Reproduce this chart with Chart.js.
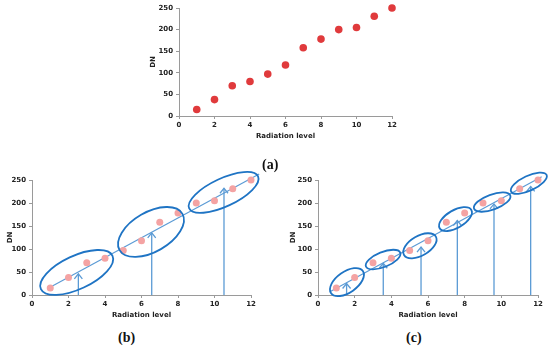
<!DOCTYPE html>
<html lang="en">
<head>
<meta charset="UTF-8">
<title>DN vs radiation level</title>
<script src="https://cdn.jsdelivr.net/npm/chart.js@4.4.0/dist/chart.umd.min.js"></script>
<style>
    body { margin: 0; background: #fff; }
    #wrap { position: relative; width: 550px; height: 350px; overflow: hidden; background: #fff; }
    .box { position: absolute; }
    .cap { position: absolute; font-family: "Liberation Serif", serif; font-weight: bold; font-size: 14px; color: #111; line-height: 14px; }
</style>
</head>
<body>
<div id="wrap">
    <div class="box" style="left:125px;top:0;width:285px;height:148px"><canvas id="chartA" width="285" height="148"></canvas></div>
    <div class="box" style="left:0;top:165px;width:275px;height:160px"><canvas id="chartB" width="275" height="160"></canvas></div>
    <div class="box" style="left:280px;top:165px;width:270px;height:160px"><canvas id="chartC" width="270" height="160"></canvas></div>
    <div class="cap" style="left:262px;top:158px">(a)</div>
    <div class="cap" style="left:118px;top:331px">(b)</div>
    <div class="cap" style="left:406px;top:331px">(c)</div>
</div>

<script>
    // data
    const levels = [1, 2, 3, 4, 5, 6, 7, 8, 9, 10, 11, 12];
    const dn = [15, 38, 70, 80, 97, 118, 158, 178, 200, 205, 231, 250];
    const xTicks = [0, 2, 4, 6, 8, 10, 12];
    const yTicks = [0, 50, 100, 150, 200, 250];

    // fitted line end points in (b) and (c)
    const fitBX = [0.99, 12.45], fitBY = [17, 263];
    const fitCX = [0.65, 12.2], fitCY = [7, 257];

    // arrows: x position and DN where the head stops
    const arrowBX = [2.54, 6.56, 10.52], arrowBTop = [46, 135, 232];
    const arrowCX = [1.56, 3.56, 5.62, 7.6, 9.6, 11.6], arrowCTop = [25, 69, 104, 162, 198, 236];

    // ellipse centres
    const ringBX = [2.45, 6.52, 10.5], ringBY = [49, 137, 223];
    const ringCX = [1.58, 3.55, 5.56, 7.5, 9.5, 11.5], ringCY = [28, 77, 107, 165, 202, 243];

    // ellipse shapes: [semi major px, semi minor px, tilt deg]
    const ringShapeB = [[39.5, 16.6, -25], [36.3, 19.8, -30], [38, 14, -25]];
    const ringShapeC = [[19.4, 10.4, -35], [18.5, 7.5, -22], [18.4, 9.8, -30], [18.3, 8.9, -30], [19.3, 7.5, -20], [19.6, 7.4, -25]];

    const axisGray = '#9a9a9a';
    const lineBlue = '#5b9bd5';
    const ringBlue = '#1f74c4';

    function axes(cfg) {
        const tickFont = { family: 'DejaVu Sans', size: 7, weight: 'bold' };
        return {
            x: {
                type: 'linear', min: 0, max: 12,
                afterBuildTicks: s => { s.ticks = xTicks.map(v => ({ value: v })); },
                afterFit: s => { s.height = cfg.xh; },
                grid: { drawOnChartArea: false, drawTicks: true, tickLength: 3, color: axisGray },
                border: { color: axisGray },
                ticks: { font: tickFont, color: '#222', padding: 2, maxRotation: 0 },
                title: { display: true, text: 'Radiation level', font: tickFont, color: '#222', padding: { top: 0, bottom: cfg.xtp } }
            },
            y: {
                type: 'linear', min: 0, max: 250,
                afterBuildTicks: s => { s.ticks = yTicks.map(v => ({ value: v })); },
                afterFit: s => { s.width = cfg.yw; },
                grid: { drawOnChartArea: false, drawTicks: true, tickLength: 3, color: axisGray },
                border: { color: axisGray },
                ticks: { font: tickFont, color: '#222', padding: 3 },
                title: { display: true, text: 'DN', font: tickFont, color: '#222', padding: { top: cfg.ytp, bottom: 0 } }
            }
        };
    }

    function pts(xs, ys) {
        return xs.map((x, i) => ({ x: x, y: ys[i] }));
    }

    // ellipses and arrow heads drawn on top, positioned with the chart scales
    function marksPlugin(ringX, ringY, shapes, arrowX, arrowTop) {
        return {
            id: 'marks',
            afterDatasetsDraw(chart) {
                const ctx = chart.ctx, sx = chart.scales.x, sy = chart.scales.y;
                ctx.save();
                ctx.strokeStyle = lineBlue;
                ctx.lineWidth = 1.3;
                arrowX.forEach((x, i) => {
                    const px = sx.getPixelForValue(x), py = sy.getPixelForValue(arrowTop[i]);
                    ctx.beginPath();
                    ctx.moveTo(px - 4, py + 5);
                    ctx.lineTo(px, py);
                    ctx.lineTo(px + 4, py + 5);
                    ctx.stroke();
                });
                ctx.strokeStyle = ringBlue;
                ctx.lineWidth = 1.8;
                ringX.forEach((x, i) => {
                    const s = shapes[i];
                    ctx.beginPath();
                    ctx.ellipse(sx.getPixelForValue(x), sy.getPixelForValue(ringY[i]), s[0], s[1], s[2] * Math.PI / 180, 0, Math.PI * 2);
                    ctx.stroke();
                });
                ctx.restore();
            }
        };
    }

    function baseOptions(cfg) {
        return {
            responsive: false,
            animation: false,
            layout: { padding: cfg.pad },
            plugins: { legend: { display: false }, tooltip: { enabled: false } },
            scales: axes(cfg)
        };
    }

    // (a) plain scatter
    new Chart(document.getElementById('chartA'), {
        type: 'scatter',
        data: {
            datasets: [{
                data: pts(levels, dn),
                pointRadius: 3.8,
                pointBackgroundColor: '#e03a3c',
                pointBorderWidth: 0,
                clip: false
            }]
        },
        options: baseOptions({ xh: 32, xtp: 8, yw: 54, ytp: 24, pad: { left: 0, right: 18, top: 8, bottom: 0 } })
    });

    function fittedChart(id, fitX, fitY, arrowX, arrowTop, ringX, ringY, shapes, cfg) {
        const datasets = [{
            data: pts(levels, dn),
            pointRadius: 3.5,
            pointBackgroundColor: '#f4a3a3',
            pointBorderWidth: 0,
            clip: false
        }, {
            data: pts(fitX, fitY),
            showLine: true,
            pointRadius: 0,
            borderColor: lineBlue,
            borderWidth: 1.2,
            clip: false
        }];
        arrowX.forEach((x, i) => {
            datasets.push({
                data: [{ x: x, y: 0 }, { x: x, y: arrowTop[i] }],
                showLine: true,
                pointRadius: 0,
                borderColor: lineBlue,
                borderWidth: 1.3,
                clip: false
            });
        });
        new Chart(document.getElementById(id), {
            type: 'scatter',
            data: { datasets: datasets },
            options: baseOptions(cfg),
            plugins: [marksPlugin(ringX, ringY, shapes, arrowX, arrowTop)]
        });
    }

    fittedChart('chartB', fitBX, fitBY, arrowBX, arrowBTop, ringBX, ringBY, ringShapeB,
        { xh: 30, xtp: 6, yw: 32, ytp: 6, pad: { left: 0, right: 24, top: 15, bottom: 0 } });
    fittedChart('chartC', fitCX, fitCY, arrowCX, arrowCTop, ringCX, ringCY, ringShapeC,
        { xh: 30, xtp: 6, yw: 38, ytp: 9, pad: { left: 0, right: 12, top: 15, bottom: 0 } });
</script>
</body>
</html>
